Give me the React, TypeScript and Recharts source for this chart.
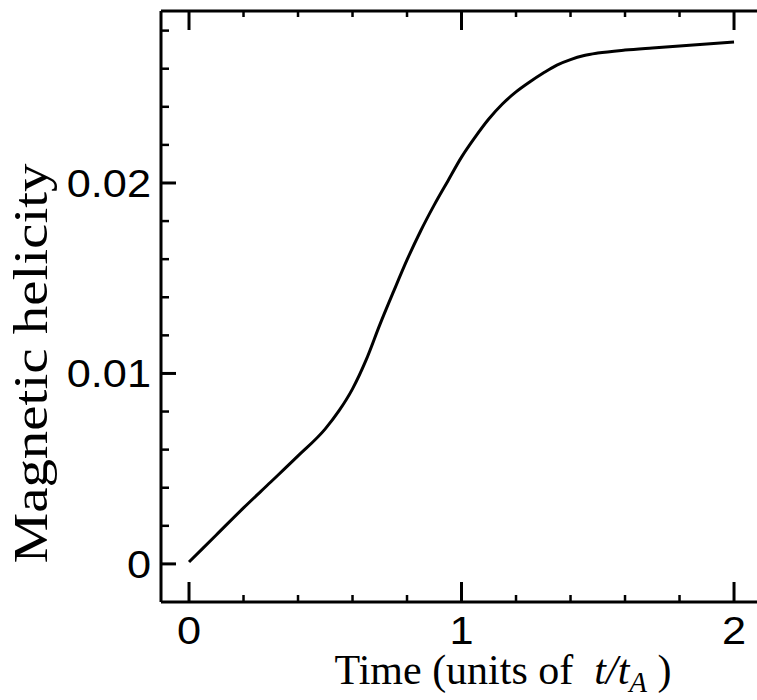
import React from 'react';
import { LineChart, Line, XAxis, YAxis, Label } from 'recharts';

// values
const timeValues = [
  0, 0.1, 0.2, 0.3, 0.4, 0.5, 0.55, 0.6, 0.65, 0.7, 0.75, 0.8, 0.85, 0.9, 0.95, 1.0,
  1.05, 1.1, 1.15, 1.2, 1.25, 1.3, 1.35, 1.4, 1.45, 1.5, 1.6, 1.7, 1.8, 1.9, 2.0,
];
const helicityValues = [
  0.0001, 0.00152, 0.00294, 0.0043, 0.00567, 0.00709, 0.00803, 0.00919, 0.01071, 0.01255, 0.01428,
  0.01596, 0.01748, 0.01885, 0.02011, 0.02136, 0.02241, 0.02336, 0.02415, 0.02478, 0.0253, 0.02577,
  0.02619, 0.02648, 0.02669, 0.02682, 0.02698, 0.02709, 0.02719, 0.0273, 0.0274,
];

const xMajorTicks = [0, 1, 2];
const xTickLabels = ['0', '1', '2'];
const xMinorTicks = [0.2, 0.4, 0.6, 0.8, 1.2, 1.4, 1.6, 1.8];
const yMajorTicks = [0, 0.01, 0.02];
const yTickLabels = ['0', '0.01', '0.02'];
const yMinorTicks = [0.002, 0.004, 0.006, 0.008, 0.012, 0.014, 0.016, 0.018, 0.022, 0.024, 0.026, 0.028];

const data = timeValues.map((t, i) => ({ t, h: helicityValues[i] }));

const X_DOMAIN: [number, number] = [-0.1028, 2.099];
const Y_DOMAIN: [number, number] = [-0.002, 0.02903];

// tickSize + tickMargin: the custom ticks get their x/y this far from the axis line
const TICK_SIZE = 4;
const TICK_MARGIN = 4;
const OFF = TICK_SIZE + TICK_MARGIN;

const SANS = 'Liberation Sans, Arial, Helvetica, sans-serif';
const SERIF = 'Liberation Serif, Times New Roman, serif';
const axisLine = { stroke: '#000', strokeWidth: 3 };

const BottomTick = (props: any) => {
  const { x, payload } = props;
  const y = props.y - OFF;
  const idx = xMajorTicks.indexOf(payload.value);
  const major = idx >= 0;
  return (
    <g>
      <line x1={x} x2={x} y1={y} y2={y - (major ? 20 : 7)} stroke="#000" strokeWidth={major ? 3 : 2.5} />
      {major && (
        <text x={0} y={0} transform={`translate(${x},${y + 42}) scale(1.14,1)`} textAnchor="middle"
          fontFamily={SANS} fontSize={38} fill="#000">{xTickLabels[idx]}</text>
      )}
    </g>
  );
};

const TopTick = (props: any) => {
  const { x, payload } = props;
  const y = props.y + OFF;
  const major = xMajorTicks.includes(payload.value);
  return <line x1={x} x2={x} y1={y} y2={y + (major ? 19 : 6)} stroke="#000" strokeWidth={major ? 3 : 2.5} />;
};

const LeftTick = (props: any) => {
  const { y, payload } = props;
  const x = props.x + OFF;
  const idx = yMajorTicks.indexOf(payload.value);
  const major = idx >= 0;
  return (
    <g>
      <line x1={x} x2={x + (major ? 15 : 8)} y1={y} y2={y} stroke="#000" strokeWidth={major ? 3 : 2.5} />
      {major && (
        <text x={0} y={0} dy="0.36em" transform={`translate(${x - 10},${y}) scale(1.14,1)`} textAnchor="end"
          fontFamily={SANS} fontSize={38} fill="#000">{yTickLabels[idx]}</text>
      )}
    </g>
  );
};

const RightTick = (props: any) => {
  const { y, payload } = props;
  const x = props.x - OFF;
  const major = yMajorTicks.includes(payload.value);
  return <line x1={x} x2={x - (major ? 20 : 9)} y1={y} y2={y} stroke="#000" strokeWidth={major ? 3 : 2.5} />;
};

const XTitle = (p: any) => {
  const vb = p.viewBox;
  return (
    <text x={vb.x + vb.width / 2 + 42} y={vb.y + 82} textAnchor="middle" fontFamily={SERIF} fontSize={42} fill="#000">
      Time (units of{'\u00a0 '}
      <tspan fontStyle="italic">t/t</tspan>
      <tspan fontStyle="italic" fontSize={29} dy={8}>A</tspan>
      <tspan dy={-8}>{'\u00a0)'}</tspan>
    </text>
  );
};

const YTitle = (p: any) => {
  const vb = p.viewBox;
  const cx = 47;
  const cy = vb.y + vb.height / 2 + 57;
  return (
    <text x={cx} y={cy} transform={`rotate(-90,${cx},${cy})`} textAnchor="middle" fontFamily={SERIF} fontSize={48}
      fill="#000" textLength={400} lengthAdjust="spacingAndGlyphs">
      Magnetic helicity
    </text>
  );
};

export default function App() {
  const xTicks = [...xMajorTicks, ...xMinorTicks];
  const yTicks = [...yMajorTicks, ...yMinorTicks];
  return (
    <div style={{ position: 'absolute', left: 0, top: 0, width: 757, height: 700, overflow: 'hidden', background: '#fff' }}>
      <LineChart width={761} height={700} data={data} margin={{ top: 0, right: 0, bottom: 0, left: 0 }}>
        <XAxis xAxisId={0} dataKey="t" type="number" domain={X_DOMAIN} allowDataOverflow
          ticks={xTicks} interval={0} tick={<BottomTick />} tickLine={false}
          tickSize={TICK_SIZE} tickMargin={TICK_MARGIN} height={98} axisLine={axisLine}>
          <Label content={XTitle} />
        </XAxis>
        <XAxis xAxisId="top" orientation="top" dataKey="t" type="number" domain={X_DOMAIN} allowDataOverflow
          ticks={xTicks} interval={0} tick={<TopTick />} tickLine={false}
          tickSize={TICK_SIZE} tickMargin={TICK_MARGIN} height={11} axisLine={axisLine} />
        <YAxis yAxisId={0} type="number" domain={Y_DOMAIN} allowDataOverflow
          ticks={yTicks} interval={0} tick={<LeftTick />} tickLine={false}
          tickSize={TICK_SIZE} tickMargin={TICK_MARGIN} width={161} axisLine={axisLine}>
          <Label content={YTitle} />
        </YAxis>
        <YAxis yAxisId="right" orientation="right" dataKey="h" type="number" domain={Y_DOMAIN} allowDataOverflow
          ticks={yTicks} interval={0} tick={<RightTick />} tickLine={false}
          tickSize={TICK_SIZE} tickMargin={TICK_MARGIN} width={0} axisLine={axisLine} />
        <Line xAxisId={0} yAxisId={0} dataKey="h" type="monotone" stroke="#000" strokeWidth={3} dot={false}
          isAnimationActive={false} />
      </LineChart>
    </div>
  );
}
